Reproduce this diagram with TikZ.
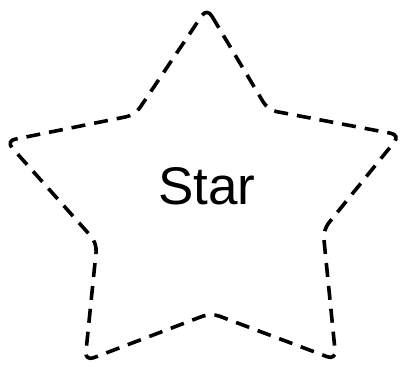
\documentclass[tikz,border=0pt]{standalone}
\usepackage{fontspec}
\setmainfont{Liberation Sans}
\begin{document}
\begin{tikzpicture}[x=1pt,y=-1pt,
  starline/.style={draw=black,line width=3.6pt,dash pattern=on 14pt off 9pt,rounded corners=9pt},
  label/.style={font=\fontsize{53}{64}\selectfont}]
\useasboundingbox (0,0) rectangle (400,367);
\draw[starline] (207,8) -- (268,110) -- (400,135) -- (323,230) -- (336,360) -- (211,313) -- (85,361) -- (97,243) -- (6,141) -- (135,115) -- cycle;
\node[label] (t) at (207,186) {Star};
\end{tikzpicture}
\end{document}
